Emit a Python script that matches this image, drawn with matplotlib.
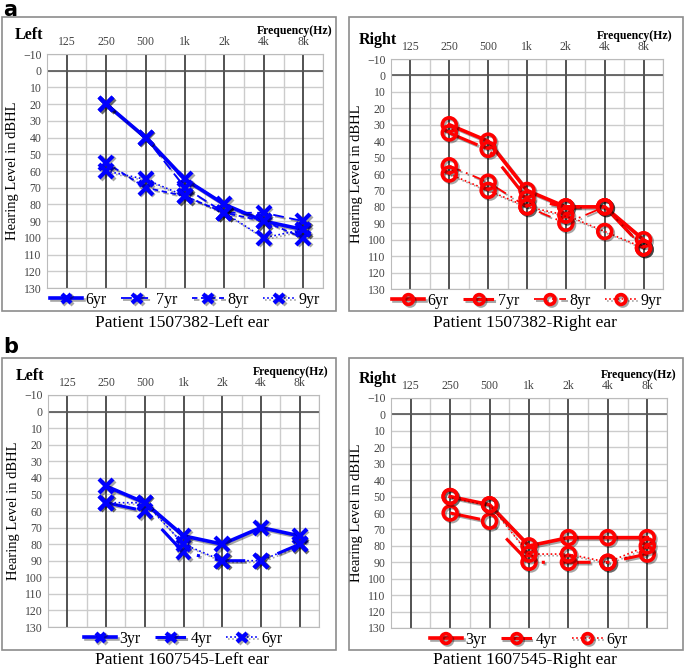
import matplotlib
matplotlib.use("Agg")
import matplotlib.pyplot as plt
import matplotlib.patheffects as pe
from matplotlib.patches import Rectangle

plt.rcParams["font.family"] = ["Liberation Serif", "DejaVu Serif"]

freq_labels = ["125", "250", "500", "1k", "2k", "4k", "8k"]
freq_pos = [1, 2, 3, 4, 5, 6]  # 250 .. 8k

# panel a: patient 1507382
a_left_labels = ["6yr", "7yr", "8yr", "9yr"]
a_left_6yr = [20, 40, 65, 80, 90, 95]
a_left_7yr = [20, 40, 70, 85, 85, 90]
a_left_8yr = [55, 70, 75, 85, 90, 100]
a_left_9yr = [60, 65, 75, 85, 100, 95]

a_right_labels = ["6yr", "7yr", "8yr", "9yr"]
a_right_6yr = [30, 40, 70, 80, 80, 100]
a_right_7yr = [35, 45, 75, 80, 80, 105]
a_right_8yr = [55, 65, 80, 90, 80, 105]
a_right_9yr = [60, 70, 80, 85, 95, 105]

# panel b: patient 1607545
b_left_labels = ["3yr", "4yr", "6yr"]
b_left_3yr = [45, 55, 75, 80, 70, 75]
b_left_4yr = [55, 60, 85, 90, 90, 80]
b_left_6yr = [55, 55, 80, 90, 90, 80]

b_right_labels = ["3yr", "4yr", "6yr"]
b_right_3yr = [50, 55, 80, 75, 75, 75]
b_right_4yr = [60, 65, 90, 90, 90, 85]
b_right_6yr = [50, 55, 85, 85, 90, 80]

W, H = 685, 670
fig = plt.figure(figsize=(W / 100, H / 100), dpi=100)


def fx(x):
    return x / W


def fy(y):
    return 1 - y / H


def box(x0, y0, x1, y1):
    fig.patches.append(Rectangle((fx(x0), fy(y1)), fx(x1 - x0), (y1 - y0) / H,
                                 transform=fig.transFigure, fill=False,
                                 edgecolor="#8c8c8c", lw=1.2))


def panel(rect, side, series, labels, styles, widths, color, marker):
    x0, y0, x1, y1 = rect
    ax = fig.add_axes([fx(x0), fy(y1), fx(x1 - x0), (y1 - y0) / H])
    ax.set_xlim(-0.5, 6.5)
    ax.set_ylim(130, -10)
    for k in range(7):
        ax.axvline(k, color="#444444", lw=1.3, zorder=1)
        ax.axvline(k + 0.5, color="#cccccc", lw=1.0, zorder=0.5)
    for v in range(-10, 131, 10):
        ax.axhline(v, color="#cccccc", lw=1.0, zorder=0.5)
    ax.axhline(0, color="#555555", lw=1.2, zorder=1)
    for s in ax.spines.values():
        s.set_color("#bbbbbb")
    ax.set_xticks(range(7))
    ax.set_xticklabels(freq_labels, fontsize=8.5)
    ax.xaxis.tick_top()
    ax.set_yticks(range(-10, 131, 10))
    ax.tick_params(length=0, labelsize=8.5, labelcolor="#444444")
    ax.tick_params(axis="x", pad=4)
    ax.tick_params(axis="y", pad=4)
    ax.set_ylabel("Hearing Level in dBHL", fontsize=10.5, labelpad=3)

    shadow = [pe.SimpleLineShadow(offset=(1.2, -1.2), shadow_color="k", alpha=0.35),
              pe.Normal()]
    for vals, lab, ls, lw in zip(series, labels, styles, widths):
        if marker == "x":
            mk = dict(marker="x", markersize=10, markeredgewidth=3)
        else:
            mk = dict(marker="o", markersize=10, markeredgewidth=2.6,
                      markerfacecolor="none")
        ax.plot(freq_pos, vals, color=color, ls=ls, lw=lw, label=lab,
                zorder=3, path_effects=shadow, **mk)
    ax.legend(loc="upper center", bbox_to_anchor=(0.5, 0.01), ncol=len(labels),
              frameon=False, fontsize=11.5, handlelength=2.0, columnspacing=0.9,
              handletextpad=0.2, borderaxespad=0, markerscale=0.7)

    # corner texts
    fig.text(fx(x0 - 32), fy(y0 - 19), side, fontsize=11.5, fontweight="bold",
             va="center", ha="left")
    fig.text(fx(x1 + 9), fy(y0 - 23), "Frequency(Hz)", fontsize=8.5,
             fontweight="bold", va="center", ha="right")
    return ax


solid = "-"
dash_long = (0, (6, 3))
dash_short = (0, (3, 2))
dotted = (0, (1, 1.5))
dash_dot = (0, (7, 3, 1, 3))
dash_dot_long = (0, (10, 5, 1, 5))

# boxes
box(2, 17, 336, 311)
box(349, 17, 683, 311)
box(2, 358, 336, 650)
box(349, 358, 683, 650)

panel((47, 54, 323, 288), "Left",
      [a_left_6yr, a_left_7yr, a_left_8yr, a_left_9yr], a_left_labels,
      [solid, dash_long, dash_short, dotted], [2.6, 1.3, 1.3, 1.2], "#0000ff", "x")
panel((391, 59, 663, 289), "Right",
      [a_right_6yr, a_right_7yr, a_right_8yr, a_right_9yr], a_right_labels,
      [solid, dash_dot_long, dash_dot, dotted], [2.6, 2.2, 1.3, 1.2], "#ff0000", "o")
panel((48, 395, 319, 627), "Left",
      [b_left_3yr, b_left_4yr, b_left_6yr], b_left_labels,
      [solid, dash_dot_long, dotted], [2.6, 2.2, 1.2], "#0000ff", "x")
panel((391, 398, 667, 628), "Right",
      [b_right_3yr, b_right_4yr, b_right_6yr], b_right_labels,
      [solid, dash_dot_long, dotted], [2.6, 2.2, 1.2], "#ff0000", "o")

fig.text(fx(182), fy(323), "Patient 1507382-Left ear", fontsize=12.5, ha="center", va="center")
fig.text(fx(525), fy(323), "Patient 1507382-Right ear", fontsize=12.5, ha="center", va="center")
fig.text(fx(182), fy(660), "Patient 1607545-Left ear", fontsize=12.5, ha="center", va="center")
fig.text(fx(525), fy(660), "Patient 1607545-Right ear", fontsize=12.5, ha="center", va="center")

fig.text(fx(3), fy(10), "a", fontsize=15, fontweight="bold", family="DejaVu Sans",
         va="center", ha="left")
fig.text(fx(3), fy(347), "b", fontsize=15, fontweight="bold", family="DejaVu Sans",
         va="center", ha="left")

fig.savefig("out.png", dpi=100)
